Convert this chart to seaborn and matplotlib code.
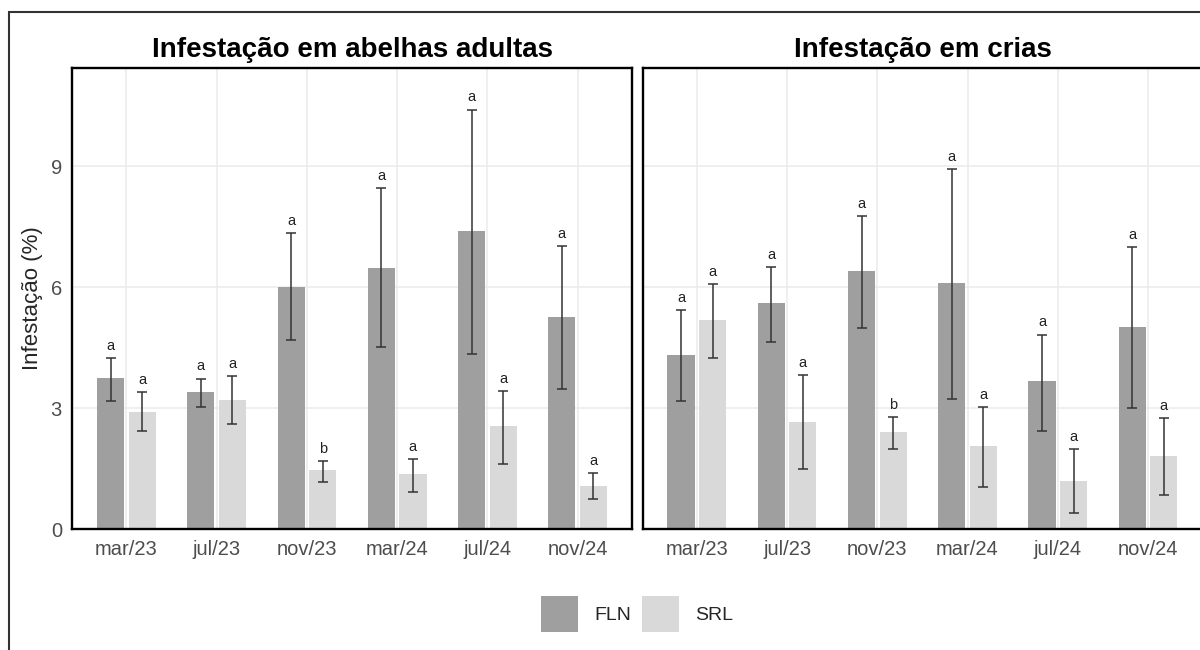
import numpy as np
import pandas as pd
import matplotlib
matplotlib.use("Agg")
import matplotlib.pyplot as plt
from matplotlib.patches import Patch, Rectangle
import seaborn as sns

# Data
months = ["mar/23", "jul/23", "nov/23", "mar/24", "jul/24", "nov/24"]
groups = ["FLN", "SRL"]

# Infestation in adult bees (mean, lower and upper end of error bar)
adult_fln = [3.76, 3.41, 6.02, 6.47, 7.40, 5.27]
adult_fln_lo = [3.18, 3.04, 4.69, 4.53, 4.36, 3.49]
adult_fln_hi = [4.25, 3.74, 7.34, 8.46, 10.41, 7.03]
adult_srl = [2.92, 3.21, 1.46, 1.37, 2.55, 1.07]
adult_srl_lo = [2.44, 2.61, 1.18, 0.93, 1.62, 0.74]
adult_srl_hi = [3.40, 3.79, 1.70, 1.75, 3.44, 1.40]

# Infestation in brood
brood_fln = [4.33, 5.62, 6.41, 6.10, 3.67, 5.02]
brood_fln_lo = [3.19, 4.64, 4.99, 3.22, 2.44, 3.00]
brood_fln_hi = [5.44, 6.51, 7.77, 8.94, 4.83, 6.99]
brood_srl = [5.18, 2.67, 2.41, 2.07, 1.21, 1.82]
brood_srl_lo = [4.25, 1.49, 2.00, 1.05, 0.41, 0.84]
brood_srl_hi = [6.08, 3.83, 2.79, 3.04, 2.00, 2.75]

# Letters of the statistical test
adult_letters_fln = ["a", "a", "a", "a", "a", "a"]
adult_letters_srl = ["a", "a", "b", "a", "a", "a"]
brood_letters_fln = ["a", "a", "a", "a", "a", "a"]
brood_letters_srl = ["a", "a", "b", "a", "a", "a"]

y_ticks = [0, 3, 6, 9]

COLORS = {"FLN": "#9f9f9f", "SRL": "#d9d9d9"}
TEXT_GRAY = "#4d4d4d"

sns.set_theme(style="white")
plt.rcParams["font.family"] = ["Liberation Sans", "DejaVu Sans"]


def make_df(fln, srl, fln_lo, srl_lo, fln_hi, srl_hi, let_fln, let_srl):
    return pd.DataFrame({
        "month": months * 2,
        "group": ["FLN"] * len(months) + ["SRL"] * len(months),
        "value": list(fln) + list(srl),
        "lo": list(fln_lo) + list(srl_lo),
        "hi": list(fln_hi) + list(srl_hi),
        "letter": list(let_fln) + list(let_srl),
    })


df_adult = make_df(adult_fln, adult_srl, adult_fln_lo, adult_srl_lo,
                   adult_fln_hi, adult_srl_hi, adult_letters_fln, adult_letters_srl)
df_brood = make_df(brood_fln, brood_srl, brood_fln_lo, brood_srl_lo,
                   brood_fln_hi, brood_srl_hi, brood_letters_fln, brood_letters_srl)

fig = plt.figure(figsize=(12, 6.5), dpi=100)
ax1 = fig.add_axes([0.06025, 0.1857, 0.4662, 0.7102])
ax2 = fig.add_axes([0.5356, 0.1857, 0.4662, 0.7102], sharey=ax1)


def draw_panel(ax, df, title, show_y):
    ax.set_axisbelow(True)
    sns.barplot(data=df, x="month", y="value", hue="group", order=months,
                hue_order=groups, palette=COLORS, width=0.7, gap=0.14,
                errorbar=None, legend=False, ax=ax, saturation=1)
    for cont, g in zip(ax.containers, groups):
        sub = df[df["group"] == g].set_index("month").loc[months]
        for bar, (_, row) in zip(cont, sub.iterrows()):
            bar.set_edgecolor("none")
            xc = bar.get_x() + bar.get_width() / 2
            ax.errorbar(xc, row["value"],
                        yerr=[[row["value"] - row["lo"]], [row["hi"] - row["value"]]],
                        fmt="none", ecolor="#333333", elinewidth=1.1,
                        capsize=3.4, capthick=1.1)
            ax.text(xc, row["hi"] + 0.3, row["letter"], ha="center", va="center",
                    fontsize=10.5, color="#222222")
    ax.set_xlim(-0.6, 5.6)
    ax.set_ylim(0, 11.45)
    ax.set_yticks(y_ticks)
    ax.grid(True, color="#ebebeb", linewidth=1.1)
    ax.tick_params(axis="both", length=0, labelsize=14.5, labelcolor=TEXT_GRAY, pad=7.5)
    ax.set_xlabel("")
    for s in ax.spines.values():
        s.set_color("black")
        s.set_linewidth(1.7)
    ax.set_title(title, fontsize=20, fontweight="bold", pad=8, color="black")
    if show_y:
        ax.set_ylabel("Infestação (%)", fontsize=16, color="#262626")
        ax.yaxis.set_label_coords(-0.052, 0.5)
    else:
        ax.set_ylabel("")
        ax.tick_params(axis="y", labelleft=False)


draw_panel(ax1, df_adult, "Infestação em abelhas adultas", True)
draw_panel(ax2, df_brood, "Infestação em crias", False)

# outer frame of the figure (cut on the right and bottom)
fig.patches.append(Rectangle((0.00775, -0.1), 1.2, 1.082, transform=fig.transFigure,
                             fill=False, edgecolor="#333333", linewidth=1.5))

handles = [Patch(facecolor=COLORS[g], edgecolor="none", label=g) for g in groups]
fig.legend(handles=handles, loc="center", bbox_to_anchor=(0.531, 0.055), ncol=2,
           frameon=False, fontsize=14, handlelength=1.9, handleheight=2.5,
           handletextpad=0.8, columnspacing=0.6)

fig.savefig("out.png", dpi=100)
